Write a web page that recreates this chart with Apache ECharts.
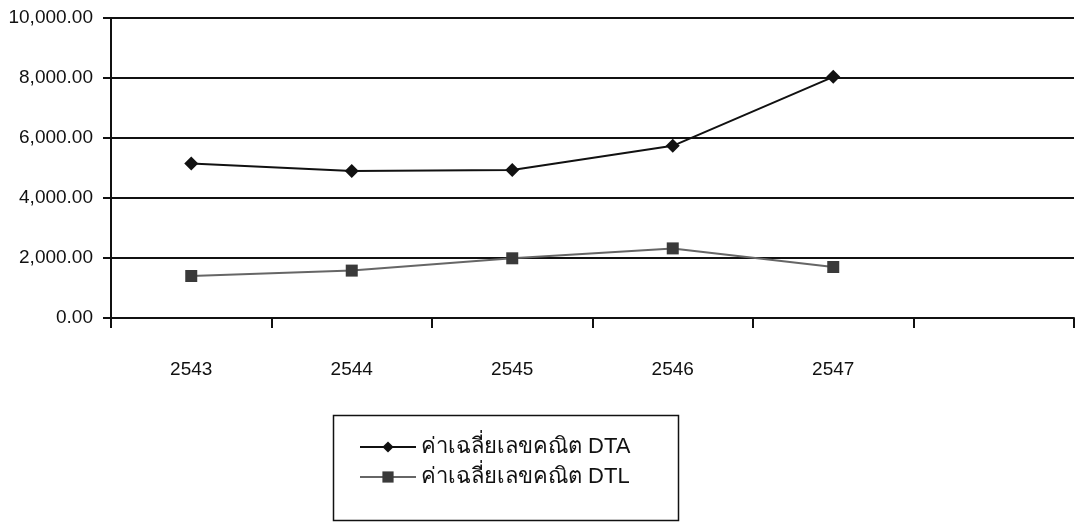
<!DOCTYPE html>
<html>
<head>
<meta charset="utf-8">
<script src="https://cdn.jsdelivr.net/npm/echarts@6/dist/echarts.min.js"></script>
<style>
  html, body { margin: 0; padding: 0; background: #fff; }
  #chart { width: 1078px; height: 522px; }
</style>
</head>
<body>
<div id="chart"></div>
<script>
// Years (Buddhist era); the trailing empty slot leaves a blank band on the right of the axis
const years = ['2543', '2544', '2545', '2546', '2547', ''];
// Arithmetic means for the two groups
const dtaValues = [5150, 4900, 4930, 5740, 8040];
const dtlValues = [1400, 1580, 1990, 2320, 1700];
const seriesNames = ['ค่าเฉลี่ยเลขคณิต DTA', 'ค่าเฉลี่ยเลขคณิต DTL'];

const font = '"Liberation Sans", Arial, "Noto Sans", sans-serif';

function fmt(v) {
  return Number(v).toLocaleString('en-US', { minimumFractionDigits: 2, maximumFractionDigits: 2 });
}

const chart = echarts.init(document.getElementById('chart'));
chart.setOption({
  backgroundColor: '#ffffff',
  animation: false,
  grid: { left: 111, right: 4, top: 18, bottom: 204 },
  xAxis: {
    type: 'category',
    data: years,
    boundaryGap: true,
    axisLine: { lineStyle: { color: '#111', width: 2 } },
    axisTick: { show: true, length: 10, inside: false, alignWithLabel: false,
      lineStyle: { color: '#111', width: 2 } },
    axisLabel: { margin: 42, color: '#111', fontSize: 19, fontFamily: font },
    splitLine: { show: false }
  },
  yAxis: {
    type: 'value',
    min: 0,
    max: 10000,
    interval: 2000,
    axisLine: { show: true, lineStyle: { color: '#111', width: 2 } },
    axisTick: { show: true, length: 8, lineStyle: { color: '#111', width: 2 } },
    axisLabel: { margin: 18, color: '#111', fontSize: 19, fontFamily: font, formatter: fmt },
    splitLine: { show: true, lineStyle: { color: '#111', width: 2 } }
  },
  legend: {
    orient: 'vertical',
    left: 359,
    top: 435,
    itemWidth: 56,
    itemHeight: 14,
    itemGap: 6,
    padding: 0,
    textStyle: { fontSize: 22, lineHeight: 24, color: '#111', fontFamily: font },
    data: seriesNames
  },
  graphic: [{
    type: 'rect',
    shape: { x: 333.5, y: 415.5, width: 345, height: 105 },
    style: { fill: 'none', stroke: '#111', lineWidth: 1.5 },
    silent: true
  }],
  series: [
    {
      name: seriesNames[0],
      type: 'line',
      data: dtaValues,
      symbol: 'diamond',
      symbolSize: 14,
      lineStyle: { color: '#111', width: 2 },
      itemStyle: { color: '#111' },
      z: 3
    },
    {
      name: seriesNames[1],
      type: 'line',
      data: dtlValues,
      symbol: 'rect',
      symbolSize: 12,
      lineStyle: { color: '#666', width: 2 },
      itemStyle: { color: '#3a3a3a' },
      z: 3
    }
  ]
});
</script>
</body>
</html>
